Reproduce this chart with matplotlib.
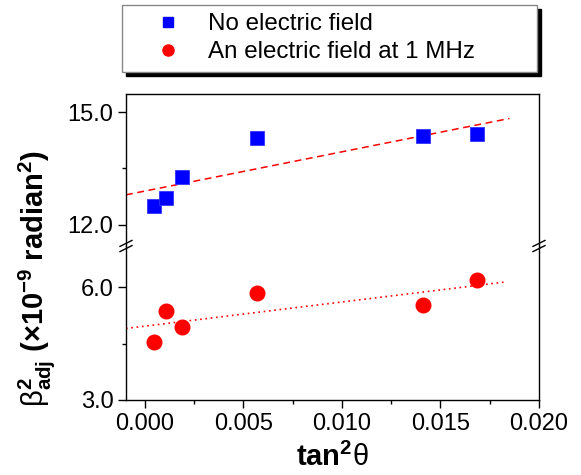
import matplotlib
matplotlib.use('Agg')
import matplotlib.pyplot as plt
from matplotlib.lines import Line2D

plt.rcParams['font.family'] = ['Liberation Sans', 'DejaVu Sans']
plt.rcParams['mathtext.fontset'] = 'custom'
plt.rcParams['mathtext.rm'] = 'Liberation Sans'
plt.rcParams['mathtext.it'] = 'Liberation Sans:italic'
plt.rcParams['mathtext.bf'] = 'Liberation Sans:bold'

# data
tan2 = [0.00046, 0.00105, 0.00186, 0.00568, 0.01411, 0.01685]
beta_no_field = [12.51, 12.71, 13.28, 14.30, 14.37, 14.41]
beta_1mhz = [4.54, 5.36, 4.95, 5.85, 5.52, 6.20]

# linear fits (end points)
fit_x = [-0.00096, 0.0185]
fit_no_field = [12.80, 14.83]
fit_x_1mhz = [-0.00096, 0.01837]
fit_1mhz = [4.90, 6.14]

fig = plt.figure(figsize=(5.81, 4.75), dpi=100)
left, width = 126 / 581, (539 - 126) / 581
y_break = 1 - 246 / 475
y_top = 1 - 94 / 475
y_bot = 1 - 400 / 475
ax_top = fig.add_axes([left, y_break, width, y_top - y_break])
ax_bot = fig.add_axes([left, y_bot, width, y_break - y_bot], sharex=ax_top)

ax_top.plot(tan2, beta_no_field, 's', color='#0000ff', ms=10, mec='#3333ff', mew=0.6,
            label='No electric field', zorder=3)
ax_top.plot(fit_x, fit_no_field, '--', color='#ff0000', lw=1.1, dashes=(4.5, 3))
ax_bot.plot(tan2, beta_1mhz, 'o', color='#ff0000', ms=10.5, mec='#ff0000',
            label='An electric field at 1 MHz', zorder=3)
ax_bot.plot(fit_x_1mhz, fit_1mhz, ':', color='#ff0000', lw=1.2, dashes=(1, 2.2))

ax_top.set_ylim(11.44, 15.48)
ax_bot.set_ylim(3.0, 7.09)
ax_bot.set_xlim(-0.00096, 0.020)

ax_top.set_yticks([12.0, 15.0])
ax_top.set_yticks([13.5], minor=True)
ax_bot.set_yticks([3.0, 6.0])
ax_bot.set_yticks([4.5], minor=True)
ax_bot.set_xticks([0.000, 0.005, 0.010, 0.015, 0.020])
ax_bot.set_xticks([0.0025, 0.0075, 0.0125, 0.0175], minor=True)
ax_top.set_yticklabels(['12.0', '15.0'])
ax_bot.set_yticklabels(['3.0', '6.0'])
ax_bot.set_xticklabels(['0.000', '0.005', '0.010', '0.015', '0.020'])

for ax in (ax_top, ax_bot):
    for s in ax.spines.values():
        s.set_linewidth(1.0)
    ax.tick_params(which='major', direction='out', length=6, width=1.0, labelsize=17, pad=3)
    ax.tick_params(which='minor', direction='out', length=3, width=1.0)
    ax.tick_params(right=False, top=False)
    ax.tick_params(axis='y', which='both', right=False)
ax_top.spines['bottom'].set_visible(False)
ax_top.tick_params(axis='x', which='both', bottom=False, labelbottom=False)
ax_bot.spines['top'].set_visible(False)

# break marks on both spines
w_px, h_px = 539 - 126, 400 - 246
dx, dy = 6 / w_px, 3 / h_px
for xs in (0, 1):
    for off in (-2.6, 2.6):
        yc = 1 + off / h_px
        ax_bot.plot([xs - dx, xs + dx], [yc - dy, yc + dy], color='black', lw=1.0,
                    transform=ax_bot.transAxes, clip_on=False)

ax_bot.set_xlabel(r'$\mathbf{tan}^{\mathbf{2}}\mathrm{\theta}$', fontsize=21, labelpad=6)
fig.text(0.062, 1 - 279 / 475,
         r'$\mathrm{\beta}^{\mathbf{2}}_{\mathbf{adj}}$ (×10$^{\mathbf{-9}}$ radian$^{\mathbf{2}}$)',
         rotation=90, ha='center', va='center', fontsize=21, fontweight='bold')

handles = [Line2D([], [], ls='none', marker='s', color='#0000ff', ms=7.5),
           Line2D([], [], ls='none', marker='o', color='#ff0000', ms=8)]
labels = ['No electric field', 'An electric field at 1 MHz']
leg = fig.legend(handles, labels, loc='upper left',
                 bbox_to_anchor=(122 / 581, 1 - 5 / 475, (537 - 122) / 581, 0.0),
                 mode='expand', fontsize=17.4, frameon=True, fancybox=False,
                 handlelength=3.1, handletextpad=0.1, labelspacing=0.25,
                 borderpad=0.35, borderaxespad=0,
                 shadow={'ox': 3, 'oy': -3, 'color': 'black', 'alpha': 1})
leg.get_frame().set_edgecolor('#888888')
leg.get_frame().set_linewidth(1.0)

fig.savefig('out.png', dpi=100)
